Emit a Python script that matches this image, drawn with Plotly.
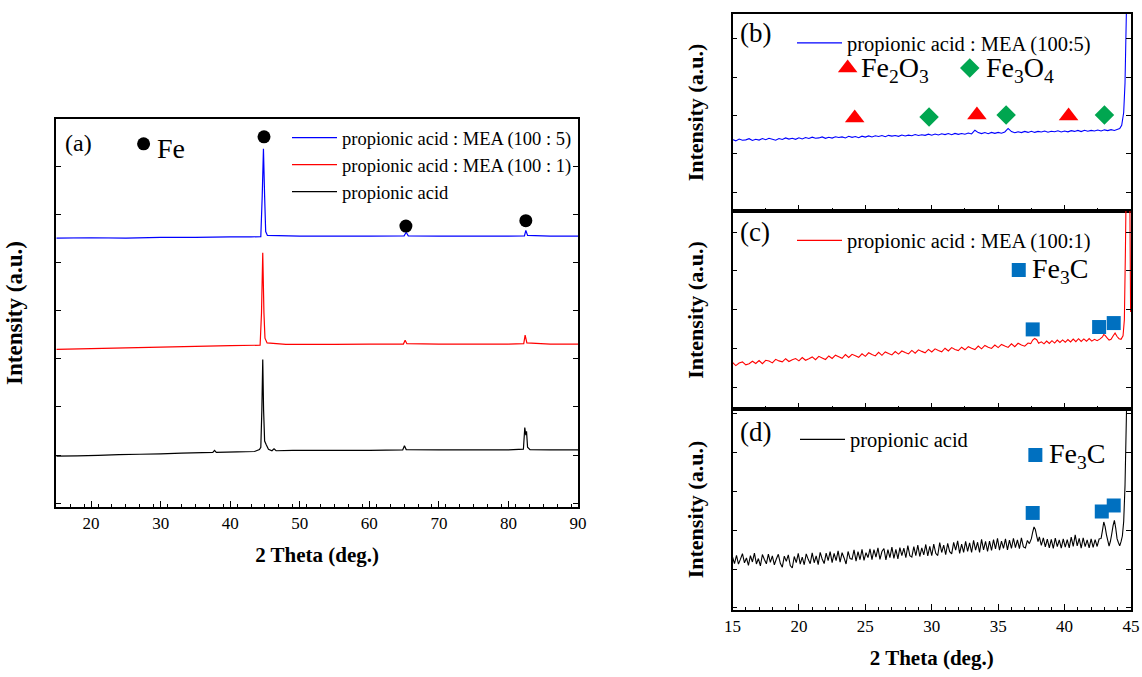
import plotly.graph_objects as go

# ---------------- data ----------------
# Panel (a): full-range patterns (arbitrary intensity units, stacked)
a_blue_x = [15, 20, 25, 30, 35, 40, 43, 44.4, 44.6, 44.78, 44.95, 45.1, 45.35, 50, 55, 60,
            65.0, 65.3, 65.6, 70, 75, 80, 82.3, 82.5, 82.75, 86, 90]
a_blue_y = [69.3, 69.4, 69.3, 69.5, 69.5, 69.6, 69.6, 69.7, 80.0, 92.3, 80.0, 71.0, 70.0, 69.8, 69.8, 69.8,
            69.9, 70.8, 69.9, 69.8, 69.8, 69.8, 69.9, 71.3, 70.0, 69.8, 69.8]

a_red_x = [15, 20, 25, 30, 35, 40, 44.3, 44.5, 44.68, 44.85, 45.0, 45.3, 48, 50, 55, 60,
           64.9, 65.15, 65.4, 70, 75, 80, 82.2, 82.4, 82.65, 86, 90]
a_red_y = [40.6, 40.8, 41.0, 41.2, 41.4, 41.6, 41.7, 50.0, 65.5, 50.0, 43.5, 42.3, 41.9, 41.9, 41.9, 42.0,
           42.0, 43.0, 42.1, 42.0, 42.0, 42.0, 42.1, 44.3, 42.3, 42.0, 42.0]

a_black_x = [15, 18, 21, 24, 27, 30, 33, 36, 37.5, 37.75, 38, 41, 43.5, 44.2, 44.4, 44.55, 44.68,
             44.8, 44.95, 45.2, 45.5, 46, 46.3, 46.6, 49, 52, 56, 60, 64.8, 65.05, 65.3, 70, 75, 80,
             82.15, 82.35, 82.5, 82.6, 82.75, 83.1, 86, 90]
a_black_y = [13.1, 13.2, 13.3, 13.5, 13.6, 13.7, 13.9, 14.0, 14.1, 14.6, 14.1, 14.2, 14.3, 14.8, 15.4, 25.0, 38.0,
             25.0, 17.0, 16.0, 14.9, 14.5, 15.0, 14.5, 14.6, 14.6, 14.6, 14.6, 14.7, 15.8, 14.8, 14.7, 14.7, 14.7,
             14.9, 20.5, 18.5, 19.5, 15.4, 14.8, 14.7, 14.7]

fe_x = [44.86, 65.26, 82.5]
fe_y = [95.4, 72.4, 73.8]

# Panel (b): propionic acid : MEA (100:5), 15-45 deg
b_x = [15.0, 15.25, 15.5, 15.75, 16.0, 16.25, 16.5, 16.75, 17.0, 17.25,
       17.5, 17.75, 18.0, 18.25, 18.5, 18.75, 19.0, 19.25, 19.5, 19.75,
       20.0, 20.25, 20.5, 20.75, 21.0, 21.25, 21.5, 21.75, 22.0, 22.25,
       22.5, 22.75, 23.0, 23.25, 23.5, 23.75, 24.0, 24.25, 24.5, 24.75,
       25.0, 25.25, 25.5, 25.75, 26.0, 26.25, 26.5, 26.75, 27.0, 27.25,
       27.5, 27.75, 28.0, 28.25, 28.5, 28.75, 29.0, 29.25, 29.5, 29.75,
       30.0, 30.25, 30.5, 30.75, 31.0, 31.25, 31.5, 31.75, 32.0, 32.25,
       32.5, 32.75, 33.0, 33.25, 33.5, 33.75, 34.0, 34.25, 34.5, 34.75,
       35.0, 35.25, 35.5, 35.75, 36.0, 36.25, 36.5, 36.75, 37.0, 37.25,
       37.5, 37.75, 38.0, 38.25, 38.5, 38.75, 39.0, 39.25, 39.5, 39.75,
       40.0, 40.25, 40.5, 40.75, 41.0, 41.25, 41.5, 41.75, 42.0, 42.25,
       42.5, 42.75, 43.0, 43.25, 43.5, 43.75, 44.0,
       44.15, 44.3, 44.45, 44.55, 44.65, 44.75]
b_y = [36.3, 35.6, 36.5, 35.9, 36.1, 36.7, 35.8, 36.4, 36.0, 36.8,
       36.2, 36.9, 36.4, 35.9, 36.8, 36.3, 37.1, 36.5, 36.9, 36.4,
       37.2, 36.6, 37.3, 36.8, 37.5, 36.9, 37.1, 37.6, 36.9, 37.4,
       37.0, 37.7, 37.3, 37.6, 37.1, 37.9, 37.4, 37.8, 37.2, 38.0,
       37.5, 38.1, 37.6, 38.2, 37.8, 38.3, 37.7, 38.4, 38.0, 38.3,
       37.9, 38.6, 38.1, 38.5, 38.2, 38.8, 38.3, 38.7, 38.4, 39.0,
       38.5, 39.1, 38.6, 39.2, 38.8, 39.3, 38.7, 39.4, 38.9, 39.3,
       39.0, 39.6, 39.1, 41.0, 39.8, 39.3, 39.8, 39.2, 39.9, 39.4,
       39.9, 39.5, 40.1, 41.9, 40.3, 39.7, 40.2, 39.8, 40.4, 39.9,
       40.5, 39.9, 40.4, 40.1, 40.6, 40.0, 40.5, 40.2, 40.7, 40.1,
       40.6, 40.2, 40.8, 40.4, 40.9, 40.3, 41.0, 40.5, 40.9, 40.6,
       41.1, 40.6, 41.2, 40.8, 41.3, 40.9, 41.5,
       41.8, 43.5, 50.0, 65.0, 100.0, 130.0]
fe2o3_x = [24.2, 33.4, 40.3]
fe2o3_y = [47.2, 48.7, 48.2]
fe3o4_x = [29.8, 35.6, 43.0]
fe3o4_y = [47.7, 48.7, 48.7]

# Panel (c): propionic acid : MEA (100:1)
c_x = [15.0, 15.25, 15.5, 15.75, 16.0, 16.25, 16.5, 16.75, 17.0, 17.25,
       17.5, 17.75, 18.0, 18.25, 18.5, 18.75, 19.0, 19.25, 19.5, 19.75,
       20.0, 20.25, 20.5, 20.75, 21.0, 21.25, 21.5, 21.75, 22.0, 22.25,
       22.5, 22.75, 23.0, 23.25, 23.5, 23.75, 24.0, 24.25, 24.5, 24.75,
       25.0, 25.25, 25.5, 25.75, 26.0, 26.25, 26.5, 26.75, 27.0, 27.25,
       27.5, 27.75, 28.0, 28.25, 28.5, 28.75, 29.0, 29.25, 29.5, 29.75,
       30.0, 30.25, 30.5, 30.75, 31.0, 31.25, 31.5, 31.75, 32.0, 32.25,
       32.5, 32.75, 33.0, 33.25, 33.5, 33.75, 34.0, 34.25, 34.5, 34.75,
       35.0, 35.25, 35.5, 35.75, 36.0, 36.25, 36.5, 36.75, 37.0, 37.25,
       37.45, 37.6, 37.75, 37.9, 38.05, 38.25, 38.45, 38.65, 38.85, 39.05,
       39.25, 39.45, 39.65, 39.85, 40.05, 40.25, 40.45, 40.65, 40.85, 41.05,
       41.25, 41.45, 41.65, 41.85, 42.05, 42.25, 42.45, 42.65, 42.85, 42.95,
       43.05, 43.2, 43.35, 43.5, 43.65, 43.8, 43.95, 44.1, 44.25, 44.4,
       44.5, 44.58, 44.65, 44.9, 44.97]
c_y = [23.5, 21.9, 23.2, 23.8, 22.3, 22.9, 24.1, 23.0, 24.5, 22.9,
       24.6, 24.2, 23.3, 25.1, 24.3, 23.8, 25.4, 24.0, 24.9, 25.5,
       24.3, 26.0, 24.6, 25.4, 26.3, 24.9, 26.6, 25.8, 25.0, 26.8,
       25.5, 27.2, 26.4, 25.6, 27.5, 26.0, 27.6, 26.9, 26.1, 27.9,
       26.6, 28.4, 27.5, 26.8, 28.6, 27.1, 28.8, 28.0, 27.3, 29.0,
       27.7, 29.3, 28.5, 27.8, 29.6, 28.2, 29.9, 29.1, 28.4, 30.1,
       28.8, 30.4, 29.6, 28.9, 30.7, 29.3, 31.0, 30.1, 29.5, 31.2,
       29.9, 31.5, 30.7, 30.0, 31.8, 30.4, 32.1, 31.2, 30.6, 32.3,
       31.0, 32.6, 31.8, 31.1, 32.9, 31.5, 33.2, 32.3, 31.7, 33.3,
       33.0, 34.8, 35.6, 35.0, 33.2, 33.9, 32.9, 34.3, 33.1, 34.5,
       33.3, 34.8, 33.6, 34.9, 33.7, 35.1, 33.9, 35.3, 34.0, 35.5,
       34.1, 35.4, 34.2, 35.6, 34.3, 35.2, 34.5, 35.3, 36.4, 37.6,
       37.2, 35.9, 34.8, 35.2, 36.9, 38.4, 36.6, 35.5, 35.2, 37.0,
       45.0, 80.0, 120.0, 120.0, 49.0]
c_fe3c_x = [37.6, 42.6, 43.7]
c_fe3c_y = [40.2, 41.4, 43.4]

# Panel (d): propionic acid
d_x = [15.0, 15.15, 15.3, 15.45, 15.6, 15.75, 15.9, 16.05, 16.2, 16.35,
       16.5, 16.65, 16.8, 16.95, 17.1, 17.25, 17.4, 17.55, 17.7, 17.85,
       18.0, 18.15, 18.3, 18.45, 18.6, 18.75, 18.9, 19.05, 19.2, 19.35,
       19.5, 19.65, 19.8, 19.95, 20.1, 20.25, 20.4, 20.55, 20.7, 20.85,
       21.0, 21.15, 21.3, 21.45, 21.6, 21.75, 21.9, 22.05, 22.2, 22.35,
       22.5, 22.65, 22.8, 22.95, 23.1, 23.25, 23.4, 23.55, 23.7, 23.85,
       24.0, 24.15, 24.3, 24.45, 24.6, 24.75, 24.9, 25.05, 25.2, 25.35,
       25.5, 25.65, 25.8, 25.95, 26.1, 26.25, 26.4, 26.55, 26.7, 26.85,
       27.0, 27.15, 27.3, 27.45, 27.6, 27.75, 27.9, 28.05, 28.2, 28.35,
       28.5, 28.65, 28.8, 28.95, 29.1, 29.25, 29.4, 29.55, 29.7, 29.85,
       30.0, 30.15, 30.3, 30.45, 30.6, 30.75, 30.9, 31.05, 31.2, 31.35,
       31.5, 31.65, 31.8, 31.95, 32.1, 32.25, 32.4, 32.55, 32.7, 32.85,
       33.0, 33.15, 33.3, 33.45, 33.6, 33.75, 33.9, 34.05, 34.2, 34.35,
       34.5, 34.65, 34.8, 34.95, 35.1, 35.25, 35.4, 35.55, 35.7, 35.85,
       36.0, 36.15, 36.3, 36.45, 36.6, 36.75, 36.9, 37.05, 37.2,
       37.35, 37.5, 37.6, 37.7, 37.8, 37.9, 38.0, 38.1, 38.25, 38.4,
       38.55, 38.7, 38.85, 39.0, 39.15, 39.3, 39.45, 39.6, 39.75, 39.9,
       40.05, 40.2, 40.35, 40.5, 40.65, 40.8, 40.95, 41.1, 41.25, 41.4,
       41.55, 41.7, 41.85, 42.0, 42.15, 42.3, 42.45, 42.6, 42.75, 42.85,
       42.95, 43.05, 43.15, 43.25, 43.35, 43.45, 43.55, 43.65, 43.75, 43.85,
       43.95, 44.05, 44.15, 44.25, 44.35, 44.45, 44.55, 44.65, 44.75]
d_y = [26.4, 23.1, 27.2, 22.8, 25.3, 28.0, 23.5, 25.9, 22.2, 27.0,
       23.9, 28.3, 22.9, 25.6, 21.9, 27.6, 25.1, 23.0, 27.8, 23.7,
       26.9, 22.5, 25.4, 27.7, 23.2, 21.3, 26.8, 24.2, 27.4, 22.1,
       20.9, 26.6, 23.6, 28.2, 22.8, 26.3, 22.5, 27.9, 25.2, 23.0,
       28.4, 23.5, 26.9, 22.6, 28.7, 25.4, 23.1, 28.3, 24.6, 29.0,
       23.6, 28.2, 24.6, 29.4, 23.8, 28.5, 25.9, 22.9, 29.1, 25.6,
       25.2, 29.9, 24.3, 29.1, 25.0, 30.2, 24.7, 28.5, 26.1, 30.4,
       25.1, 30.0, 26.3, 30.9, 25.2, 29.1, 30.6, 24.9, 30.0, 26.1,
       31.3, 25.7, 30.2, 25.4, 31.0, 27.0, 30.8, 26.0, 32.0, 27.0,
       26.3, 31.5, 27.0, 32.3, 26.6, 30.9, 27.4, 32.6, 26.9, 31.7,
       27.0, 32.8, 28.2, 27.1, 33.5, 28.6, 32.3, 27.5, 33.2, 29.0,
       27.9, 33.6, 29.8, 34.4, 28.2, 32.8, 28.7, 34.1, 29.2, 33.4,
       28.6, 34.6, 29.8, 33.7, 28.7, 35.1, 29.9, 34.2, 29.1, 34.3,
       29.6, 35.0, 30.4, 35.7, 29.8, 34.3, 30.7, 35.4, 29.9, 34.8,
       30.6, 35.7, 31.0, 34.9, 30.5, 35.9, 31.4, 30.9, 34.6,
       33.0, 35.5, 38.8, 41.3, 40.0, 36.8, 34.0, 36.4, 32.2, 35.9,
       31.4, 35.3, 30.9, 35.1, 30.6, 35.8, 31.5, 34.9, 30.8, 35.4,
       31.3, 35.0, 30.9, 36.3, 31.6, 37.4, 31.9, 35.6, 30.8, 35.9,
       31.5, 34.9, 30.9, 35.4, 31.2, 35.0, 31.6, 35.3, 35.6, 39.5,
       43.8, 41.5, 37.5, 34.6, 31.8, 34.2, 37.8, 42.0, 44.6, 40.8,
       35.5, 33.6, 31.9, 34.0, 36.8, 44.0, 62.0, 95.0, 130.0]
d_fe3c_x = [37.6, 42.8, 43.7]
d_fe3c_y = [48.3, 49.0, 52.0]

x_ticks_a = [20, 30, 40, 50, 60, 70, 80, 90]
x_ticks_r = [15, 20, 25, 30, 35, 40, 45]

names = ["propionic acid : MEA (100 : 5)", "propionic acid : MEA (100 : 1)", "propionic acid"]
names_r = ["propionic acid : MEA (100:5)", "propionic acid : MEA (100:1)", "propionic acid"]

# ---------------- styling ----------------
FONT = '"Liberation Serif", "Times New Roman", serif'
BLUE, RED, BLACK = "#0000FF", "#FF0000", "#000000"
TRI, DIA, SQ = "#FF0000", "#00A650", "#0070C0"
W, H = 1142, 677

def px(v):
    return v / W

def py(v):
    return 1 - v / H

fig = go.Figure()

def line_trace(x, y, color, name, xa, ya, lg, width=1.2):
    return go.Scatter(x=x, y=y, mode="lines", name=name,
                      line=dict(color=color, width=width, simplify=False),
                      xaxis=xa, yaxis=ya, legend=lg)

def mark_trace(x, y, symbol, size, color, xa, ya):
    return go.Scatter(x=x, y=y, mode="markers", showlegend=False,
                      marker=dict(symbol=symbol, size=size, color=color, line=dict(width=0)),
                      xaxis=xa, yaxis=ya)

# Panel (a)
fig.add_trace(line_trace(a_blue_x, a_blue_y, BLUE, names[0], "x", "y", "legend"))
fig.add_trace(line_trace(a_red_x, a_red_y, RED, names[1], "x", "y", "legend"))
fig.add_trace(line_trace(a_black_x, a_black_y, BLACK, names[2], "x", "y", "legend"))
fig.add_trace(mark_trace(fe_x, fe_y, "circle", 13, BLACK, "x", "y"))
fig.add_trace(mark_trace([27.55], [93.6], "circle", 13, BLACK, "x", "y"))

# Panel (b)
fig.add_trace(line_trace(b_x, b_y, BLUE, names_r[0], "x2", "y2", "legend2", 1.1))
fig.add_trace(mark_trace(fe2o3_x + [23.67], fe2o3_y + [72.6], "triangle-up", 17, TRI, "x2", "y2"))
fig.add_trace(mark_trace(fe3o4_x + [32.86], fe3o4_y + [72.6], "diamond", 15, DIA, "x2", "y2"))

# Panel (c)
fig.add_trace(line_trace(c_x, c_y, RED, names_r[1], "x3", "y3", "legend3", 1.1))
fig.add_trace(mark_trace(c_fe3c_x + [36.55], c_fe3c_y + [70.2], "square", 14, SQ, "x3", "y3"))

# Panel (d)
fig.add_trace(line_trace(d_x, d_y, BLACK, names_r[2], "x4", "y4", "legend4", 1.1))
fig.add_trace(mark_trace(d_fe3c_x + [37.8], d_fe3c_y + [77.1], "square", 14, SQ, "x4", "y4"))

axis_common = dict(showline=True, linecolor="black", linewidth=1.5, ticks="inside",
                   tickcolor="black", showgrid=False, zeroline=False, automargin=False,
                   tickfont=dict(family=FONT, size=17, color="black"))

def xax(domain, anchor, rng, minor, labels, title=None, tickvals=None):
    d = dict(axis_common, domain=domain, anchor=anchor, range=rng, mirror=True,
             tickmode="array", tickvals=tickvals, ticklen=6, tickwidth=1.2,
             minor=dict(dtick=minor, tick0=15, ticks="inside", ticklen=3.5, tickwidth=1.2,
                        tickcolor="black", showgrid=False),
             showticklabels=labels)
    if title:
        d["title"] = dict(text=title, font=dict(family=FONT, size=21, color="black", weight="bold"),
                          standoff=15)
    return d

def yax(domain, anchor, tick0, dtick, title_standoff, tsize):
    return dict(axis_common, domain=domain, anchor=anchor, range=[0, 100], mirror="ticks",
                tick0=tick0, dtick=dtick, ticklen=5, tickwidth=1.2, showticklabels=False,
                title=dict(text="Intensity (a.u.)", standoff=title_standoff,
                           font=dict(family=FONT, size=tsize, color="black", weight="bold")))

xa_dom = [px(56.3), px(578)]
xr_dom = [px(732.5), px(1131)]
ya_dom = [py(507), py(119)]
yb_dom = [py(211), py(14)]
yc_dom = [py(409), py(211)]
yd_dom = [py(610), py(409)]

def leg(xpx, ypx, size):
    return dict(x=px(xpx), y=py(ypx), xanchor="left", yanchor="top", bgcolor="rgba(0,0,0,0)",
                font=dict(family=FONT, size=size, color="black"), borderwidth=0,
                tracegroupgap=0, itemwidth=45)

def note(text, x, y, xr, yr, size):
    return dict(text=text, x=x, y=y, xref=xr, yref=yr, xanchor="left", yanchor="middle",
                showarrow=False, font=dict(family=FONT, size=size, color="black"))

annotations = [
    note("(a)", 16.0, 93.8, "x", "y", 24),
    note("Fe", 29.2, 92.5, "x", "y", 28),
    note("(b)", 15.4, 90.4, "x2", "y2", 27),
    note("Fe<sub>2</sub>O<sub>3</sub>", 24.5, 71.6, "x2", "y2", 28),
    note("Fe<sub>3</sub>O<sub>4</sub>", 33.95, 71.6, "x2", "y2", 28),
    note("(c)", 15.4, 89.4, "x3", "y3", 27),
    note("Fe<sub>3</sub>C", 37.4, 70.2, "x3", "y3", 28),
    note("(d)", 15.4, 88.6, "x4", "y4", 27),
    note("Fe<sub>3</sub>C", 38.7, 77.1, "x4", "y4", 28),
]

fig.update_layout(
    width=W, height=H, margin=dict(l=0, r=0, t=0, b=0, autoexpand=False),
    paper_bgcolor="white", plot_bgcolor="white",
    font=dict(family=FONT, color="black"),
    showlegend=True,
    xaxis=xax(xa_dom, "y", [15, 90], 2, True, "2 Theta (deg.)", x_ticks_a),
    yaxis=yax(ya_dom, "x", 13.4, 12.4, 26, 23),
    xaxis2=xax(xr_dom, "y2", [15, 45], 2.5, False, None, x_ticks_r),
    yaxis2=yax(yb_dom, "x2", 9.5, 19.5, 21, 22),
    xaxis3=xax(xr_dom, "y3", [15, 45], 2.5, False, None, x_ticks_r),
    yaxis3=yax(yc_dom, "x3", 10.9, 19.6, 21, 22),
    xaxis4=xax(xr_dom, "y4", [15, 45], 1, True, "2 Theta (deg.)", x_ticks_r),
    yaxis4=yax(yd_dom, "x4", 20.4, 19.4, 21, 22),
    legend=leg(287, 119, 18.5),
    legend2=leg(792, 23, 20.5),
    legend3=leg(792, 220.5, 20.5),
    legend4=leg(795, 419.5, 20.5),
    annotations=annotations,
)

# remove the browser's default page margin so the figure fills the window exactly
fig.write_html("out.html", config={"displayModeBar": False},
               post_script="document.body.style.margin='0';document.body.style.overflow='hidden';")
